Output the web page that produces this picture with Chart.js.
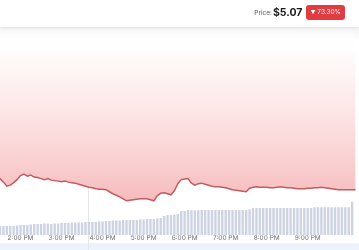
<!DOCTYPE html>
<html>
<head>
<meta charset="utf-8">
<script src="https://cdn.jsdelivr.net/npm/chart.js@4/dist/chart.umd.min.js"></script>
<style>
  html, body { margin: 0; padding: 0; width: 359px; height: 250px; overflow: hidden; background: #fff; font-family: Inter, sans-serif; }
  #head { position: absolute; left: 0; top: 0; width: 359px; height: 27px; background: #fff; box-shadow: 0 1px 3px rgba(0,0,0,.07); z-index: 2; }
  #quote { position: absolute; right: 14px; top: 5px; height: 15px; display: flex; align-items: center; }
  #quote .lbl { font-size: 6.5px; color: #555; margin-right: 1px; }
  #quote .val { font-size: 10.5px; font-weight: 700; color: #1b1b1b; margin-right: 4px; }
  #quote .chg { background: #e23b41; color: #fff; font-size: 6.5px; border-radius: 3px; height: 15px; line-height: 15px; padding: 0 4px; }
  #quote .chg small { font-size: 5px; }
  #wrap { position: absolute; left: 0; top: 27px; width: 359px; height: 223px; background: linear-gradient(#f3f3f3, #fff 14px); }
  #band { position: absolute; left: 0; bottom: 0; width: 359px; height: 7px; background: #eef2fa; }
  canvas { position: absolute; left: 0; top: 0; }
</style>
</head>
<body>
<div id="head">
  <div id="quote"><span class="lbl">Price:</span><span class="val">$5.07</span><span class="chg"><small>▼</small> 73.30%</span></div>
</div>
<div id="wrap">
  <div id="band"></div>
  <canvas id="chart" width="359" height="223"></canvas>
</div>
<script>
// minutes after midnight, one point every 5 min from 1:30 PM
const startMin = 810;
const stepMin = 5;

const prices = [
  5.29, 5.22, 5.14, 5.16, 5.21, 5.27, 5.35, 5.38, 5.34, 5.36,
  5.32, 5.31, 5.29, 5.27, 5.29, 5.26, 5.25, 5.24, 5.23, 5.24,
  5.22, 5.21, 5.20, 5.18, 5.16, 5.14, 5.12, 5.11, 5.09, 5.08,
  5.08, 5.07, 5.03, 4.99, 4.96, 4.93, 4.89, 4.85, 4.86, 4.87,
  4.88, 4.89, 4.89, 4.89, 4.87, 4.85, 4.95, 5.00, 5.01, 4.99,
  4.97, 5.05, 5.19, 5.27, 5.28, 5.29, 5.20, 5.16, 5.19, 5.20,
  5.18, 5.16, 5.14, 5.13, 5.13, 5.12, 5.11, 5.09, 5.07, 5.06,
  5.05, 5.04, 5.03, 5.10, 5.12, 5.13, 5.12, 5.12, 5.12, 5.11,
  5.11, 5.12, 5.13, 5.12, 5.11, 5.11, 5.10, 5.09, 5.09, 5.09,
  5.10, 5.10, 5.11, 5.11, 5.12, 5.11, 5.10, 5.09, 5.08, 5.07,
  5.07, 5.07, 5.07, 5.07, 5.07
];

// volume, thousands
const volumes = [
  45, 45, 45, 45, 45, 48, 50, 50, 50,
  53, 55, 55, 55, 58, 58, 55, 58, 58,
  60, 60, 60, 63, 63, 63, 63, 65, 65, 65, 65,
  68, 68, 70, 70, 73, 73, 73, 75, 75, 75, 75, 75,
  78, 78, 80, 80, 80, 83, 85, 95,
  100, 100, 103, 105,
  120, 120, 125, 123, 123, 123, 125, 125, 125, 125, 125, 125, 125, 125, 125, 125, 125, 125, 125, 125, 128,
  135, 135, 135, 135, 135, 135, 135, 135, 135, 135, 135, 135, 135, 135, 135, 135, 135, 135,
  138, 138, 138, 138, 138, 138, 138, 138, 138, 138, 138,
  165
];

const hourTicks = [840, 900, 960, 1020, 1080, 1140, 1200, 1260];
const hourLabels = ['2:00 PM', '3:00 PM', '4:00 PM', '5:00 PM', '6:00 PM', '7:00 PM', '8:00 PM', '9:00 PM'];

const hoverMin = 939;

const lineColor = '#c65a62';
const barColor = '#cdd3e2';

const priceData = prices.map((p, i) => ({ x: startMin + i * stepMin, y: p }));
const volData = volumes.map((v, i) => ({ x: startMin + i * stepMin, y: v }));

// thin vertical hover line, from the price line down to the bottom
const hoverLine = {
  id: 'hoverLine',
  beforeDatasetsDraw(chart) {
    const { ctx, scales } = chart;
    const idx = Math.round((hoverMin - startMin) / stepMin);
    const x = Math.round(scales.x.getPixelForValue(hoverMin)) + 0.5;
    const yTop = scales.y.getPixelForValue(prices[idx]);
    ctx.save();
    ctx.strokeStyle = '#e4e6ea';
    ctx.lineWidth = 1;
    ctx.beginPath();
    ctx.moveTo(x, yTop);
    ctx.lineTo(x, chart.height);
    ctx.stroke();
    ctx.restore();
  }
};

function pinkFill(context) {
  const { chart } = context;
  const area = chart.chartArea;
  if (!area) return 'rgba(246,190,192,0.8)';
  const g = chart.ctx.createLinearGradient(0, area.top, 0, area.top + 170);
  g.addColorStop(0, 'rgba(255,255,255,0)');
  g.addColorStop(0.1, 'rgba(255,255,255,1)');
  g.addColorStop(0.45, '#fde9e9');
  g.addColorStop(0.75, '#fad3d4');
  g.addColorStop(1, '#f6bdbf');
  return g;
}

new Chart(document.getElementById('chart'), {
  type: 'line',
  data: {
    datasets: [
      {
        type: 'line',
        data: priceData,
        yAxisID: 'y',
        borderColor: lineColor,
        borderWidth: 1.5,
        pointRadius: 0,
        tension: 0,
        fill: 'end',
        backgroundColor: pinkFill,
        order: 1
      },
      {
        type: 'bar',
        data: volData,
        yAxisID: 'yv',
        backgroundColor: barColor,
        barPercentage: 0.7,
        categoryPercentage: 1,
        order: 2
      }
    ]
  },
  options: {
    responsive: false,
    animation: false,
    events: [],
    layout: { padding: { left: 0, right: 0, top: 0, bottom: 9 } },
    plugins: { legend: { display: false }, tooltip: { enabled: false } },
    scales: {
      x: {
        type: 'linear',
        min: 810,
        max: 1335,
        offset: false,
        grid: { display: false, drawTicks: false },
        border: { display: false },
        afterBuildTicks: s => { s.ticks = hourTicks.map(v => ({ value: v })); },
        ticks: {
          autoSkip: false,
          maxRotation: 0,
          padding: -1,
          color: '#6b6b6b',
          font: { family: 'Inter', size: 6.5 },
          callback: v => hourLabels[hourTicks.indexOf(v)]
        }
      },
      y: { display: false, min: 4.17, max: 8.29 },
      yv: { display: false, min: 0, max: 1030 }
    }
  },
  plugins: [hoverLine]
});
</script>
</body>
</html>
